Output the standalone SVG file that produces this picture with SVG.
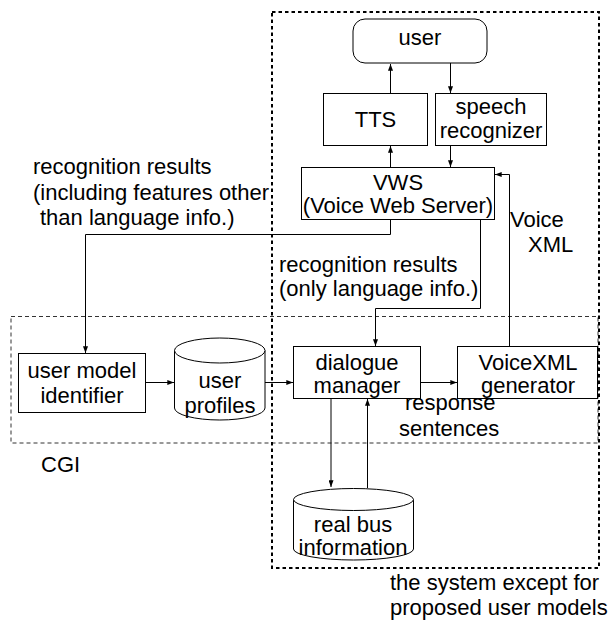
<svg xmlns="http://www.w3.org/2000/svg" width="613" height="621" viewBox="0 0 613 621">
<defs>
<style>
.box{fill:#fff;stroke:#000;stroke-width:1}
.t{font-family:"Liberation Sans",Arial,sans-serif;font-size:22px;fill:#000}
.m{text-anchor:middle}
.c{fill:none;stroke:#000;stroke-width:1}
.big{fill:none;stroke:#000;stroke-width:2;stroke-dasharray:3.5 3}
.cgi{fill:none;stroke:#333;stroke-width:1;stroke-dasharray:4 3}
</style>
<marker id="ah" viewBox="0 0 8 6" refX="8" refY="3" markerWidth="7" markerHeight="5" markerUnits="userSpaceOnUse" orient="auto">
<path d="M0,0 L8,3 L0,6 z" fill="#000"/>
</marker>
</defs>
<rect width="613" height="621" fill="#fff"/>

<g id="cgi-region">
<rect class="cgi" x="11" y="316.5" width="587" height="126.5"/>
<text class="t" x="41" y="472">CGI</text>
</g>

<g id="system-region">
<rect class="big" x="272" y="12" width="327" height="556"/>
<text class="t" x="390" y="590">the system except for</text>
<text class="t" x="390" y="615">proposed user models</text>
</g>

<g id="user">
<rect class="box" x="353" y="19" width="134" height="44" rx="12"/>
<text class="t m" x="420" y="45">user</text>
</g>

<g id="tts">
<rect class="box" x="323.5" y="93.5" width="104" height="52"/>
<text class="t m" x="375.5" y="127">TTS</text>
</g>

<g id="speech-recognizer">
<rect class="box" x="435.5" y="93.5" width="111" height="52"/>
<text class="t m" x="491" y="114">speech</text>
<text class="t m" x="491" y="138">recognizer</text>
</g>

<g id="vws">
<rect class="box" x="301.5" y="167.5" width="193" height="52"/>
<text class="t m" x="398" y="190">VWS</text>
<text class="t m" x="398" y="213">(Voice Web Server)</text>
</g>

<g id="user-model-identifier">
<rect class="box" x="18.5" y="353.5" width="127" height="59"/>
<text class="t m" x="82" y="378">user model</text>
<text class="t m" x="82" y="403">identifier</text>
</g>

<g id="user-profiles">
<path class="box" d="M174.5,350.5 V408 A45.25,12 0 0 0 265,408 V350.5"/>
<ellipse class="box" cx="219.75" cy="350.5" rx="45.25" ry="12.5"/>
<text class="t m" x="220" y="388">user</text>
<text class="t m" x="220" y="413">profiles</text>
</g>

<g id="dialogue-manager">
<rect class="box" x="293.5" y="346.5" width="127" height="52"/>
<text class="t m" x="357" y="370">dialogue</text>
<text class="t m" x="357" y="393">manager</text>
</g>

<g id="voicexml-generator">
<rect class="box" x="457.5" y="346.5" width="140" height="52"/>
<text class="t m" x="528" y="370">VoiceXML</text>
<text class="t m" x="528" y="393">generator</text>
</g>

<g id="real-bus-information">
<path class="box" d="M293.5,499.5 V549 A60,11 0 0 0 413.5,549 V499.5"/>
<ellipse class="box" cx="353.5" cy="499.5" rx="60" ry="11"/>
<text class="t m" x="353" y="532">real bus</text>
<text class="t m" x="353" y="555">information</text>
</g>

<g id="connectors">
<path class="c" d="M390.5,93 V64" marker-end="url(#ah)"/>
<path class="c" d="M450.5,63 V93" marker-end="url(#ah)"/>
<path class="c" d="M390.5,167 V146" marker-end="url(#ah)"/>
<path class="c" d="M450.5,146 V167" marker-end="url(#ah)"/>
<path class="c" d="M390.5,220 V234.5 H85.5 V353" marker-end="url(#ah)"/>
<path class="c" d="M480.5,220 V308.5 H375.5 V346" marker-end="url(#ah)"/>
<path class="c" d="M509.5,346 V174.5 H495" marker-end="url(#ah)"/>
<path class="c" d="M145.5,382.5 H174" marker-end="url(#ah)"/>
<path class="c" d="M265,382.5 H293" marker-end="url(#ah)"/>
<path class="c" d="M420.5,382.5 H457" marker-end="url(#ah)"/>
<path class="c" d="M331,399 V487" marker-end="url(#ah)"/>
<path class="c" d="M367.5,488 V399" marker-end="url(#ah)"/>
</g>

<g id="labels">
<text class="t" x="33" y="174">recognition results</text>
<text class="t" x="33" y="200">(including features other</text>
<text class="t" x="40" y="225">than language info.)</text>
<text class="t" x="279" y="272">recognition results</text>
<text class="t" x="279" y="296">(only language info.)</text>
<text class="t" x="510" y="227">Voice</text>
<text class="t" x="528" y="252">XML</text>
<text class="t" x="405" y="410">response</text>
<text class="t" x="399" y="436">sentences</text>
</g>
</svg>
